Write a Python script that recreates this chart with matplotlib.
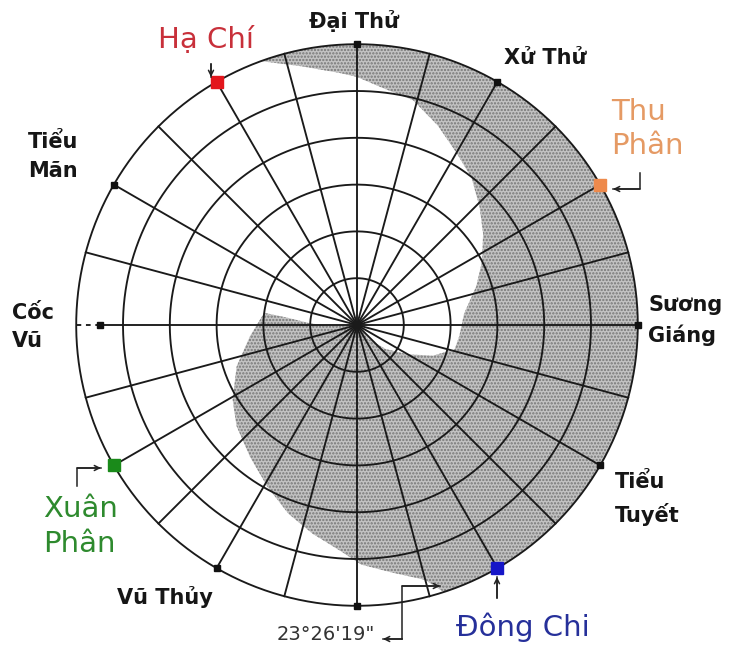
import numpy as np
import matplotlib
matplotlib.use("Agg")
import matplotlib.pyplot as plt
from matplotlib.patches import Polygon

# ---------------- data ----------------
ring_radii = [1, 2, 3, 4, 5, 6]
spoke_angles = list(range(0, 360, 15))

# solar terms that carry a small black marker on the outer circle (angle deg, radius)
marker_terms = ["Đại Thử", "Xử Thử", "Sương Giáng", "Tiểu Tuyết", "Đại Hàn", "Vũ Thủy", "Cốc Vũ", "Tiểu Mãn"]
marker_angles = [90, 60, 0, -30, -90, -120, 180, 150]
marker_radii = [6, 6, 6, 6, 6, 6, 5.5, 6]

# coloured key terms
key_terms = ["Hạ Chí", "Thu Phân", "Đông Chi", "Xuân Phân"]
key_angles = [120, 30, -60, -150]
key_colors = ["#e3161c", "#ee8a4c", "#1616c8", "#1a8a1a"]
key_text_colors = ["#c8303a", "#e59a64", "#26309a", "#2e8a2e"]

# boundary of the shaded (yin) region, polar (deg, ring units)
upper_angle = [110, 102, 94, 90, 84, 76, 68, 60, 52, 44, 36, 27, 18, 6, -6, -14, -22, -30, -40, -50]
upper_r = [6.0, 5.65, 5.40, 5.30, 5.10, 4.95, 4.60, 4.25, 3.98, 3.64, 3.33, 3.00, 2.68, 2.30, 2.20,
           2.15, 1.75, 1.25, 0.80, 0.40]
lower_angle = [182, 178, 174, 172.5, 186, 199, 211, 220, 231, 241, 250, 258, 266, 271, 278, 285, 288]
lower_r = [0.6, 1.0, 1.5, 2.0, 2.3, 2.72, 3.10, 3.36, 3.63, 3.95, 4.29, 4.56, 4.85, 5.12, 5.34, 5.64, 6.0]

tilt_text = "23°26'19\""

# ---------------- layout ----------------
U = 46.8          # pixels per ring unit
CX, CY = 357, 325  # centre in pixels
W, H = 731, 651


def P(x, y):
    return (x - CX) / U, (CY - y) / U


def pol(a, r):
    t = np.deg2rad(a)
    return r * np.cos(t), r * np.sin(t)


plt.rcParams["hatch.linewidth"] = 1.1
fig = plt.figure(figsize=(W / 100, H / 100), dpi=100)
ax = fig.add_axes([0, 0, 1, 1])
ax.set_xlim(-CX / U, (W - CX) / U)
ax.set_ylim(-(H - CY) / U, CY / U)
ax.axis("off")

# shaded region
pts = [pol(a, r) for a, r in zip(upper_angle, upper_r)]
pts.append((0.0, 0.0))
pts += [pol(a, r) for a, r in zip(lower_angle, lower_r)]
arc = np.linspace(lower_angle[-1], upper_angle[0] + 360, 200)
pts += [pol(a, 6.0) for a in arc]
ax.add_patch(Polygon(pts, closed=True, facecolor="#c3c3c3", edgecolor="#767676",
                     hatch=".....", linewidth=0, zorder=1))

LC = "#1a1a1a"
LW = 1.35
th = np.linspace(0, 2 * np.pi, 400)
for r in ring_radii:
    ax.plot(r * np.cos(th), r * np.sin(th), color=LC, lw=LW, zorder=3)

for a in spoke_angles:
    if a == 180:
        x0, y0 = pol(a, 5.5)
        ax.plot([0, x0], [0, y0], color=LC, lw=LW, zorder=3)
        x1, y1 = pol(a, 6.0)
        ax.plot([x0, x1], [y0, y1], color=LC, lw=LW, ls=(0, (2.5, 2.5)), zorder=3)
    else:
        x1, y1 = pol(a, 6.0)
        ax.plot([0, x1], [0, y1], color=LC, lw=LW, zorder=3)

for a, r in zip(marker_angles, marker_radii):
    x, y = pol(a, r)
    ax.plot(x, y, marker="s", ms=5, color="#111111", zorder=5)

for a, c in zip(key_angles, key_colors):
    x, y = pol(a, 6.0)
    ax.plot(x, y, marker="s", ms=9, color=c, zorder=6)

# black labels
bold = dict(fontsize=15, fontweight="bold", color="#161616", family="DejaVu Sans", zorder=7)
ax.text(*P(354, 21), "Đại Thử", ha="center", va="center", **bold)
ax.text(*P(545, 58), "Xử Thử", ha="center", va="center", **bold)
ax.text(*P(28, 142), "Tiểu", ha="left", va="center", **bold)
ax.text(*P(28, 171), "Mãn", ha="left", va="center", **bold)
ax.text(*P(12, 313), "Cốc", ha="left", va="center", **bold)
ax.text(*P(12, 341), "Vũ", ha="left", va="center", **bold)
ax.text(*P(648, 305), "Sương", ha="left", va="center", **bold)
ax.text(*P(648, 335), "Giáng", ha="left", va="center", **bold)
ax.text(*P(615, 482), "Tiểu", ha="left", va="center", **bold)
ax.text(*P(615, 515), "Tuyết", ha="left", va="center", **bold)
ax.text(*P(165, 597), "Vũ Thủy", ha="center", va="center", **bold)

# coloured labels
big = dict(fontsize=21, family="DejaVu Sans", zorder=7)
ax.text(*P(206, 40), key_terms[0], ha="center", va="center", color=key_text_colors[0], **big)
ax.text(*P(611, 112), "Thu", ha="left", va="center", color=key_text_colors[1], **big)
ax.text(*P(611, 146), "Phân", ha="left", va="center", color=key_text_colors[1], **big)
ax.text(*P(523, 627), key_terms[2], ha="center", va="center", color=key_text_colors[2], **big)
ax.text(*P(43, 509), "Xuân", ha="left", va="center", color=key_text_colors[3], **big)
ax.text(*P(43, 544), "Phân", ha="left", va="center", color=key_text_colors[3], **big)

ax.text(*P(326, 634), tilt_text, ha="center", va="center", fontsize=14,
        color="#333333", family="DejaVu Sans", zorder=7)

# arrows / connectors
ak = dict(arrowstyle="->", color="#222222", lw=1.1, mutation_scale=9, shrinkA=0, shrinkB=0)


def polyline_arrow(pix):
    xs, ys = zip(*[P(x, y) for x, y in pix])
    ax.plot(xs, ys, color="#222222", lw=1.1, zorder=6)
    ax.annotate("", xy=P(*pix[-1]), xytext=P(*pix[-2]), arrowprops=ak, zorder=6)


polyline_arrow([(211, 64), (211, 77)])
polyline_arrow([(640, 173), (640, 189), (613, 189)])
polyline_arrow([(77, 486), (77, 468), (101, 468)])
polyline_arrow([(497, 598), (497, 577)])
polyline_arrow([(402, 639), (402, 586), (440, 586)])
polyline_arrow([(402, 639), (383, 639)])

fig.savefig("out.png", dpi=100, facecolor="white")
